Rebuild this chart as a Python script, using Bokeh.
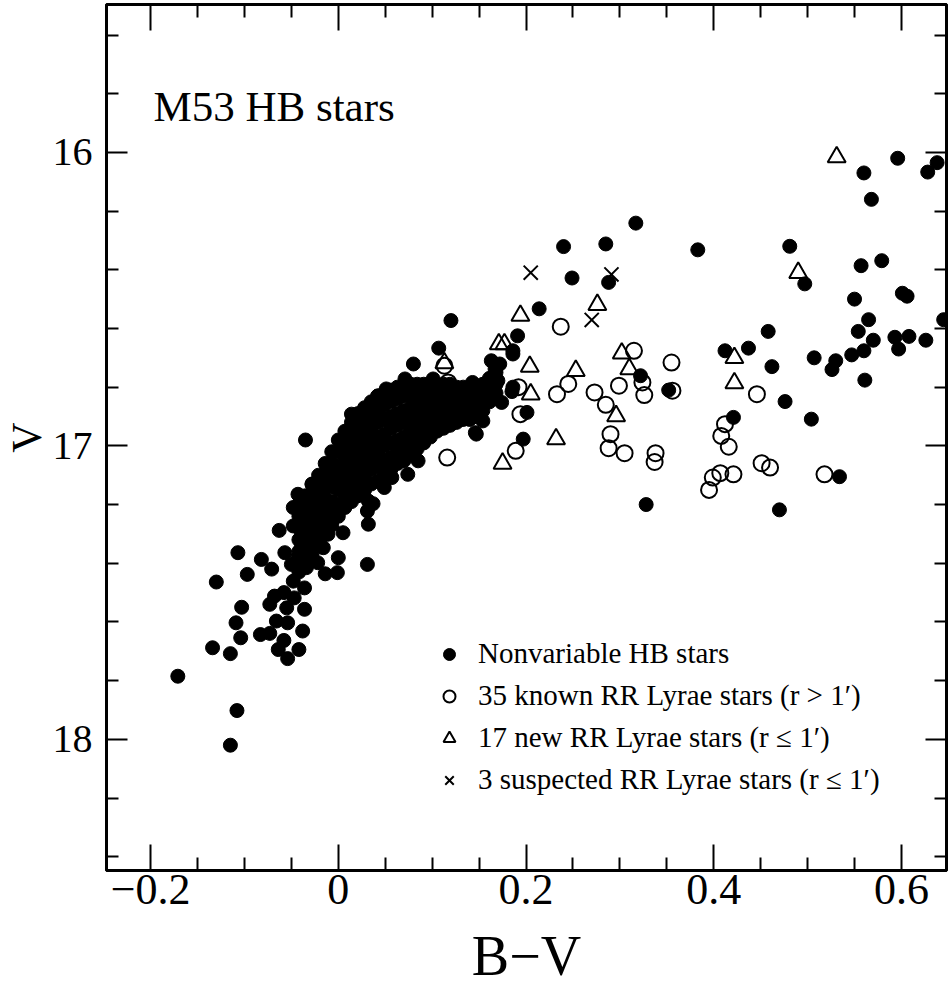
from bokeh.plotting import figure
from bokeh.models import (Range1d, FixedTicker, LinearAxis, Label, Legend,
                          LegendItem, CustomJSTickFormatter)
from bokeh.embed import file_html
from bokeh.resources import INLINE

FONT = "Liberation Serif"

# ---------------- data (B-V, V) ----------------
# sparse nonvariable HB stars on the blue tail and around the dense band
hb_tail = [
    (-0.171, 17.785), (-0.108, 17.902), (-0.115, 18.020), (-0.134, 17.688),
    (-0.115, 17.708), (-0.130, 17.464), (-0.107, 17.364), (-0.097, 17.438),
    (-0.103, 17.550), (-0.109, 17.603), (-0.104, 17.654), (-0.083, 17.643),
    (-0.073, 17.639), (-0.064, 17.694), (-0.054, 17.725), (-0.042, 17.694),
    (-0.038, 17.631), (-0.058, 17.663), (-0.066, 17.597), (-0.054, 17.603),
    (-0.073, 17.540), (-0.068, 17.512), (-0.058, 17.500), (-0.055, 17.552),
    (-0.036, 17.557), (-0.047, 17.518), (-0.048, 17.461), (-0.036, 17.484),
    (-0.082, 17.387), (-0.071, 17.420), (-0.063, 17.288), (-0.048, 17.273),
    (-0.057, 17.364), (-0.043, 17.381), (-0.034, 17.415), (-0.039, 17.336),
    (-0.025, 17.324), (-0.022, 17.398), (-0.014, 17.436), (0.000, 17.381),
    (-0.001, 17.432), (-0.016, 17.347), (-0.029, 17.290), (-0.015, 17.279),
    (0.005, 17.296), (-0.050, 17.404), (-0.035, 16.980), (-0.043, 17.165),
    (-0.048, 17.210), (-0.036, 17.222), (-0.028, 17.131), (-0.015, 17.114),
    (-0.018, 17.165), (-0.025, 17.256), (-0.011, 17.301), (0.032, 17.188),
    (0.037, 17.197), (0.031, 17.222), (0.032, 17.267), (0.031, 17.404),
    (0.049, 17.142), (0.057, 17.108), (0.074, 17.097), (0.085, 17.051),
]

# dense core of the HB: B-V of a thin strip and the V values of the stars in it
hb_core = [
    (-0.042, [17.20, 17.24, 17.28, 17.32, 17.36, 17.40, 17.43]),
    (-0.035, [17.17, 17.21, 17.25, 17.29, 17.33, 17.37, 17.40]),
    (-0.028, [17.13, 17.17, 17.21, 17.25, 17.29, 17.33, 17.37]),
    (-0.021, [17.10, 17.14, 17.18, 17.22, 17.26, 17.30, 17.33]),
    (-0.014, [17.06, 17.10, 17.14, 17.18, 17.22, 17.26, 17.30]),
    (-0.007, [17.02, 17.06, 17.10, 17.14, 17.19, 17.23, 17.27]),
    (0.000, [16.98, 17.02, 17.07, 17.11, 17.15, 17.20, 17.24]),
    (0.007, [16.95, 16.99, 17.04, 17.08, 17.12, 17.17, 17.21]),
    (0.014, [16.92, 16.96, 17.01, 17.05, 17.10, 17.14, 17.19]),
    (0.021, [16.89, 16.94, 16.98, 17.03, 17.08, 17.12, 17.17]),
    (0.028, [16.87, 16.91, 16.96, 17.01, 17.05, 17.10, 17.15]),
    (0.035, [16.85, 16.89, 16.94, 16.99, 17.04, 17.08, 17.13]),
    (0.042, [16.83, 16.88, 16.92, 16.97, 17.02, 17.07, 17.12]),
    (0.049, [16.82, 16.86, 16.91, 16.96, 17.00, 17.05, 17.10]),
    (0.056, [16.81, 16.85, 16.90, 16.94, 16.99, 17.04, 17.08]),
    (0.063, [16.80, 16.84, 16.89, 16.93, 16.98, 17.02, 17.06]),
    (0.070, [16.79, 16.83, 16.88, 16.92, 16.97, 17.01, 17.05]),
    (0.077, [16.79, 16.83, 16.87, 16.91, 16.95, 16.99, 17.03]),
    (0.084, [16.79, 16.83, 16.87, 16.90, 16.94, 16.98, 17.01]),
    (0.091, [16.79, 16.83, 16.86, 16.90, 16.93, 16.96, 16.99]),
    (0.098, [16.79, 16.82, 16.86, 16.89, 16.93, 16.97]),
    (0.105, [16.79, 16.83, 16.87, 16.91, 16.95]),
    (0.112, [16.79, 16.82, 16.86, 16.90, 16.94]),
    (0.119, [16.79, 16.83, 16.87, 16.90, 16.93]),
    (0.126, [16.80, 16.84, 16.88, 16.92]),
    (0.133, [16.80, 16.83, 16.87, 16.91]),
    (0.140, [16.80, 16.84, 16.88, 16.91]),
    (0.147, [16.80, 16.83, 16.87, 16.90]),
    (0.154, [16.79, 16.83, 16.86, 16.88]),
    (0.161, [16.77, 16.81, 16.85]),
    (0.168, [16.75, 16.79, 16.82]),
]

hb_upper = [
    (0.107, 16.667), (0.120, 16.573), (0.080, 16.721), (0.101, 16.772),
    (0.085, 16.812), (0.071, 16.772), (0.051, 16.806), (0.042, 16.830),
    (0.014, 16.892), (0.026, 16.898), (0.143, 16.784), (0.146, 16.955),
    (0.163, 16.784), (0.167, 16.738), (0.163, 16.710), (0.170, 16.778),
    (0.186, 16.800), (0.156, 16.824), (0.152, 16.880), (0.145, 16.835),
    (0.147, 16.960), (0.154, 16.915), (0.160, 16.835), (0.172, 16.721),
    (0.174, 16.852), (0.186, 16.687), (0.191, 16.625), (0.186, 16.676),
    (0.185, 16.815), (0.201, 16.886), (0.197, 16.977), (0.214, 16.533),
]

hb_red = [
    (0.249, 16.428), (0.240, 16.321), (0.285, 16.312), (0.317, 16.241),
    (0.288, 16.443), (0.383, 16.332), (0.322, 16.761), (0.352, 16.810),
    (0.328, 17.200), (0.596, 16.020), (0.560, 16.070), (0.568, 16.160),
    (0.628, 16.067), (0.638, 16.035), (0.481, 16.320), (0.497, 16.448),
    (0.557, 16.386), (0.579, 16.369), (0.550, 16.500), (0.601, 16.480),
    (0.606, 16.490), (0.565, 16.570), (0.645, 16.570), (0.554, 16.610),
    (0.570, 16.640), (0.593, 16.630), (0.597, 16.670), (0.608, 16.627),
    (0.626, 16.640), (0.560, 16.676), (0.547, 16.690), (0.530, 16.710),
    (0.526, 16.740), (0.507, 16.700), (0.561, 16.776), (0.458, 16.610),
    (0.437, 16.667), (0.412, 16.676), (0.462, 16.730), (0.476, 16.849),
    (0.421, 16.903), (0.504, 16.909), (0.534, 17.105), (0.470, 17.218),
]

rr_known = [
    (0.113, 16.727), (0.117, 16.784), (0.116, 17.040), (0.237, 16.594),
    (0.315, 16.676), (0.355, 16.716), (0.324, 16.784), (0.245, 16.789),
    (0.299, 16.795), (0.233, 16.824), (0.273, 16.818), (0.326, 16.827),
    (0.356, 16.812), (0.192, 16.800), (0.285, 16.860), (0.194, 16.892),
    (0.290, 16.960), (0.189, 17.017), (0.288, 17.008), (0.305, 17.025),
    (0.338, 17.025), (0.337, 17.055), (0.446, 16.824), (0.412, 16.926),
    (0.408, 16.966), (0.416, 17.003), (0.451, 17.059), (0.460, 17.074),
    (0.518, 17.097), (0.407, 17.093), (0.421, 17.097), (0.399, 17.108),
    (0.395, 17.150),
]

rr_new = [
    (0.531, 16.016), (0.490, 16.410), (0.422, 16.700), (0.422, 16.786),
    (0.276, 16.519), (0.194, 16.556), (0.302, 16.685), (0.204, 16.730),
    (0.310, 16.738), (0.253, 16.744), (0.205, 16.824), (0.296, 16.898),
    (0.232, 16.977), (0.175, 17.060), (0.171, 16.653), (0.177, 16.653),
    (0.113, 16.718),
]

rr_suspected = [(0.205, 16.410), (0.291, 16.416), (0.270, 16.571)]

x_major = [-0.2, 0.0, 0.2, 0.4, 0.6]
x_major_labels = ["\u22120.2", "0", "0.2", "0.4", "0.6"]
x_minor = [-0.25, -0.15, -0.1, -0.05, 0.05, 0.1, 0.15, 0.25, 0.3, 0.35,
           0.45, 0.5, 0.55, 0.65]
y_major = [16, 17, 18]
y_major_labels = ["16", "17", "18"]
y_minor = [15.6, 15.8, 16.2, 16.4, 16.6, 16.8, 17.2, 17.4, 17.6, 17.8,
           18.2, 18.4]

legend_labels = [
    "Nonvariable HB stars",
    "35 known RR Lyrae stars (r > 1\u2032)",
    "17 new RR Lyrae stars (r \u2264 1\u2032)",
    "3 suspected RR Lyrae stars (r \u2264 1\u2032)",
]

# ---------------- figure ----------------
p = figure(width=948, height=994, output_backend="svg", toolbar_location=None,
           x_range=Range1d(-0.247, 0.648), y_range=Range1d(18.447, 15.496),
           min_border_left=104, min_border_right=2, min_border_top=4,
           min_border_bottom=124, x_axis_label="B\u2212V", y_axis_label="V")
p.grid.visible = False
p.outline_line_color = "black"
p.outline_line_width = 3
p.background_fill_color = "white"
p.border_fill_color = "white"


def style_axis(ax, major_in, minor_in):
    ax.axis_line_width = 3
    ax.axis_line_color = "black"
    ax.major_tick_in = major_in
    ax.major_tick_out = 0
    ax.minor_tick_in = minor_in
    ax.minor_tick_out = 0
    ax.major_tick_line_width = 2
    ax.minor_tick_line_width = 2
    ax.major_label_text_font = FONT
    ax.major_label_text_color = "black"
    ax.axis_label_text_font = FONT
    ax.axis_label_text_font_style = "normal"
    ax.axis_label_text_color = "black"


xticker = FixedTicker(ticks=x_major, minor_ticks=x_minor)
yticker = FixedTicker(ticks=y_major, minor_ticks=y_minor)

xa = p.xaxis[0]
xa.ticker = xticker
xa.major_label_overrides = dict(zip(x_major, x_major_labels))
style_axis(xa, 26, 13)
xa.major_label_text_font_size = "44px"
xa.major_label_standoff = 4
xa.axis_label_text_font_size = "56px"
xa.axis_label_standoff = 18

ya = p.yaxis[0]
ya.ticker = yticker
ya.major_label_overrides = dict(zip(y_major, y_major_labels))
style_axis(ya, 21, 12)
ya.major_label_text_font_size = "40px"
ya.major_label_standoff = 14
ya.major_label_orientation = "horizontal"
ya.axis_label_text_font_size = "42px"
ya.axis_label_standoff = 0

blank = CustomJSTickFormatter(code="return ''")
top = LinearAxis(ticker=xticker, formatter=blank, major_label_standoff=0)
style_axis(top, 26, 13)
p.add_layout(top, "above")
right = LinearAxis(ticker=yticker, formatter=blank, major_label_standoff=0)
style_axis(right, 21, 12)
p.add_layout(right, "right")

# ---------------- glyphs ----------------
core_pts = [(bv, v) for bv, vs in hb_core for v in vs]
hb_all = hb_tail + core_pts + hb_upper + hb_red
r_hb = p.scatter([a for a, b in hb_all], [b for a, b in hb_all], marker="circle",
                 size=14, fill_color="black", line_color="black", line_width=1)
r_known = p.scatter([a for a, b in rr_known], [b for a, b in rr_known],
                    marker="circle", size=16, fill_color=None,
                    line_color="black", line_width=2)
r_new = p.scatter([a for a, b in rr_new], [b for a, b in rr_new],
                  marker="triangle", size=18, fill_color=None,
                  line_color="black", line_width=2)
r_susp = p.scatter([a for a, b in rr_suspected], [b for a, b in rr_suspected],
                   marker="x", size=20, line_color="black", line_width=2)

p.add_layout(Label(x=-0.197, y=15.845, text="M53 HB stars", text_font=FONT,
                   text_font_size="43px", text_color="black",
                   text_baseline="alphabetic"))

legend = Legend(items=[LegendItem(label=lab, renderers=[r]) for lab, r in
                       zip(legend_labels, [r_hb, r_known, r_new, r_susp])],
                location=(328, 74), orientation="vertical")
legend.label_text_font = FONT
legend.label_text_font_size = "29px"
legend.label_text_color = "black"
legend.glyph_width = 30
legend.glyph_height = 30
legend.label_standoff = 14
legend.spacing = 9
legend.padding = 0
legend.margin = 0
legend.border_line_alpha = 0
legend.background_fill_alpha = 0
p.add_layout(legend)

open("out.html", "w").write(file_html(p, INLINE))
